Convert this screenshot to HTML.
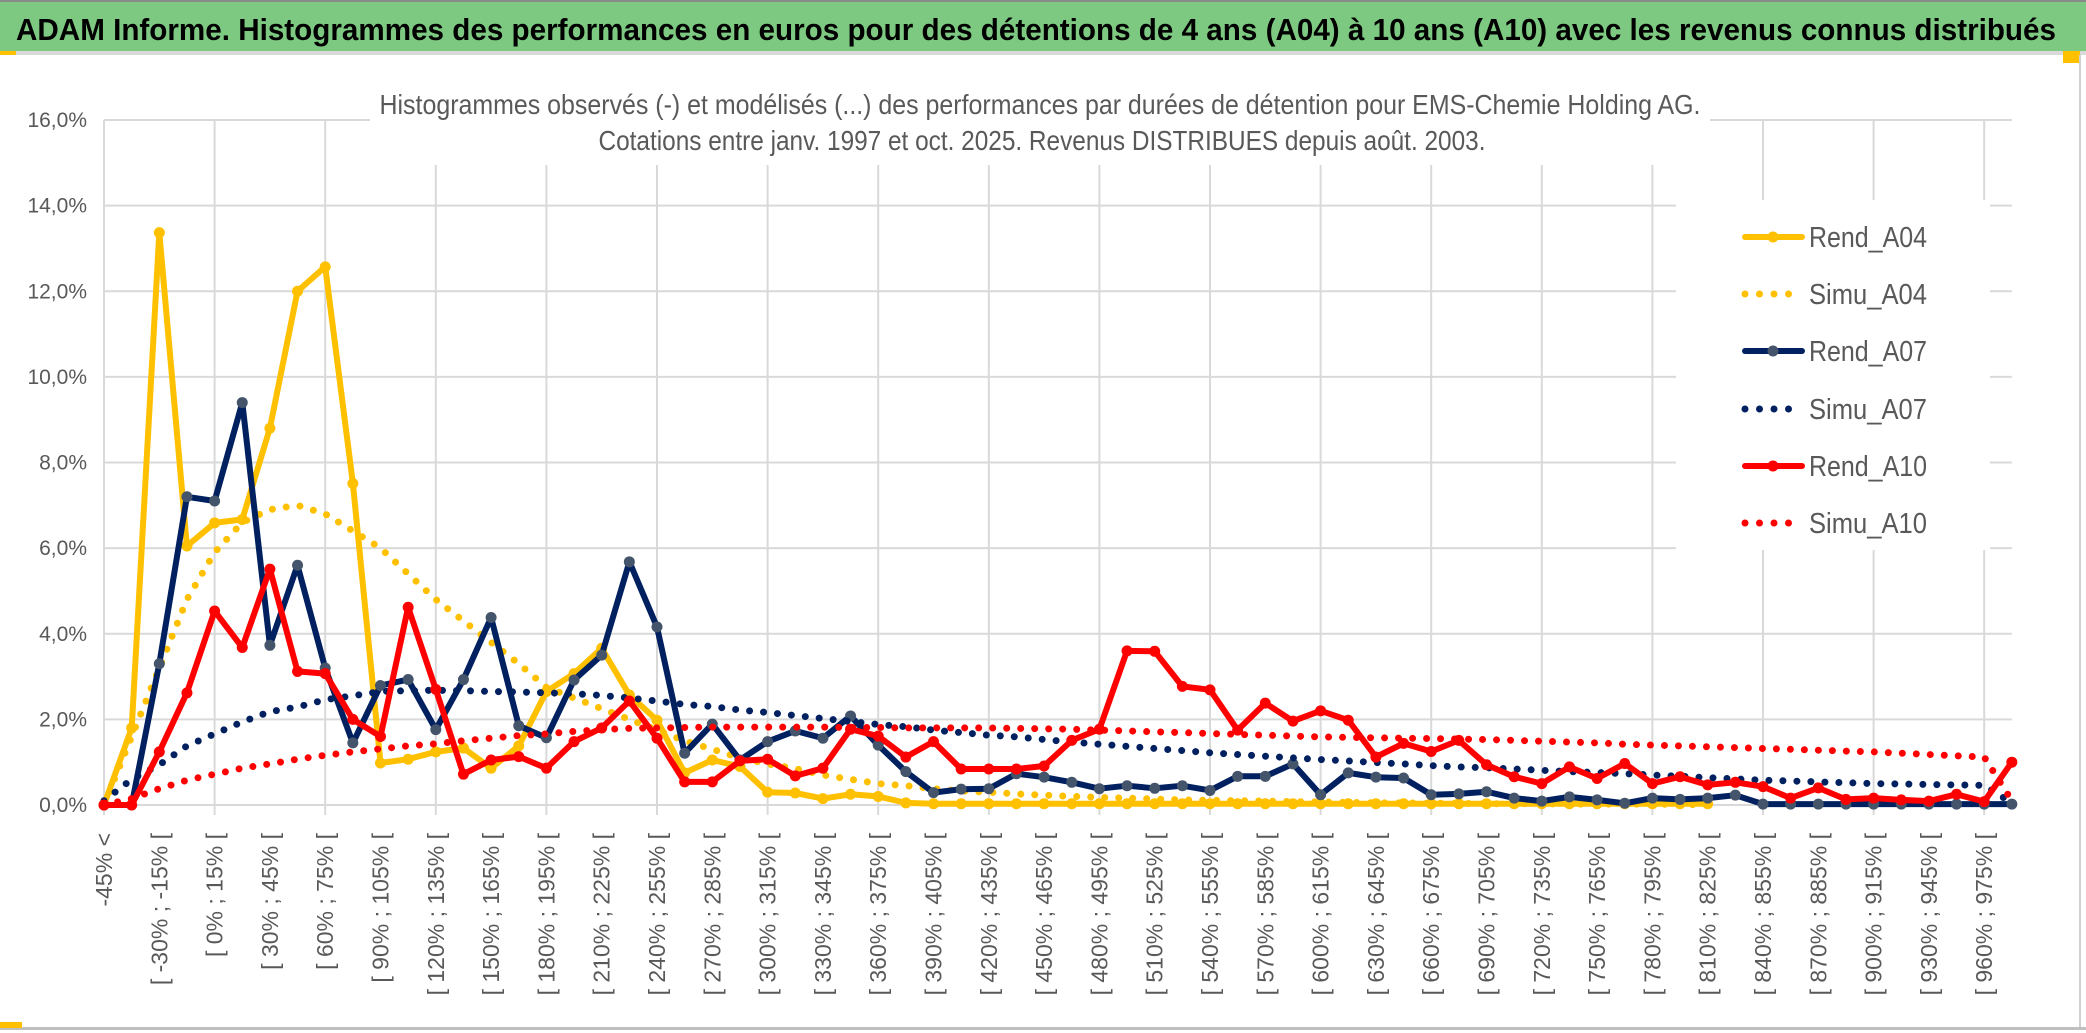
<!DOCTYPE html>
<html><head><meta charset="utf-8"><style>
html,body{margin:0;padding:0;background:#fff;}
svg{display:block;}
</style></head><body>
<svg id="chart" xmlns="http://www.w3.org/2000/svg" width="2086" height="1033" viewBox="0 0 2086 1033">
<rect x="0" y="0" width="2086" height="1033" fill="#fff"/>
<rect x="0" y="2" width="2086" height="49" fill="#7ec982"/>
<rect x="0" y="0" width="2086" height="2" fill="#8a8a8a"/>
<rect x="0" y="51" width="2086" height="4" fill="#d9d9d9"/>
<rect x="0" y="51" width="16" height="4" fill="#ffc000"/>
<rect x="2063" y="51" width="17" height="12" fill="#ffc000"/>
<text x="16" y="40" font-family="'Liberation Sans Narrow','Liberation Sans',sans-serif" font-weight="bold" font-size="31" fill="#000" textLength="2040" lengthAdjust="spacingAndGlyphs">ADAM Informe. Histogrammes des performances en euros pour des détentions de 4 ans (A04) à 10 ans (A10) avec les revenus connus distribués</text>
<rect x="2079" y="55" width="2" height="975" fill="#d0d0d0"/>
<rect x="0" y="1027" width="2086" height="3" fill="#bfbfbf"/>
<rect x="0" y="1022" width="22" height="6" fill="#ffc000"/>
<g id="grid"></g>
<rect x="370" y="60" width="1340" height="105" fill="#fff"/>
<text x="1040" y="114" text-anchor="middle" font-family="'Liberation Sans Narrow','Liberation Sans',sans-serif" font-size="28" fill="#595959" textLength="1321" lengthAdjust="spacingAndGlyphs">Histogrammes observés (-) et modélisés (...) des performances par durées de détention pour EMS-Chemie Holding AG.</text>
<text x="1042" y="150" text-anchor="middle" font-family="'Liberation Sans Narrow','Liberation Sans',sans-serif" font-size="28" fill="#595959" textLength="887" lengthAdjust="spacingAndGlyphs">Cotations entre janv. 1997 et oct. 2025. Revenus DISTRIBUES depuis août. 2003.</text>
<g id="ylabels"></g>
<g id="xlabels"></g>
<g id="series"></g>
<g id="legend"></g>
</svg>
<script>
const yTicks = [0, 2, 4, 6, 8, 10, 12, 14, 16];
const rendA04 = [0, 1.8, 13.37, 6.05, 6.59, 6.67, 8.8, 12.0, 12.57, 7.51,
 0.98, 1.07, 1.24, 1.33, 0.86, 1.38, 2.65, 3.07, 3.66, 2.57,
 1.98, 0.75, 1.05, 0.9, 0.3, 0.28, 0.15, 0.25, 0.2, 0.05,
 0.03, 0.03, 0.03, 0.03, 0.03, 0.03, 0.03, 0.03, 0.03, 0.03,
 0.03, 0.03, 0.03, 0.03, 0.03, 0.03, 0.03, 0.03, 0.03, 0.03,
 0.03, 0.03, 0.03, 0.03, 0.03, 0.03, 0.03, 0.03, 0.03,
 null, null, null, null, null, null, null, null, null, null, null];
const simuA04 = [0, 1.6, 3.2, 4.8, 5.9, 6.6, 6.9, 7.0, 6.8, 6.4,
 6.0, 5.4, 4.8, 4.3, 3.8, 3.3, 2.75, 2.5, 2.25, 2.0,
 1.75, 1.5, 1.3, 1.1, 0.96, 0.85, 0.7, 0.6, 0.5, 0.45,
 0.38, 0.33, 0.3, 0.26, 0.23, 0.2, 0.18, 0.16, 0.14, 0.12,
 0.11, 0.1, 0.09, 0.08, 0.07, 0.06, 0.05, 0.05, 0.04, 0.04,
 0.03, 0.03, 0.03, 0.02, 0.02, 0.02, 0.02, 0.01, 0.01,
 null, null, null, null, null, null, null, null, null, null, null];
const rendA07 = [0, 0, 3.3, 7.2, 7.1, 9.4, 3.73, 5.6, 3.2, 1.45,
 2.79, 2.93, 1.76, 2.93, 4.38, 1.85, 1.57, 2.92, 3.5, 5.68,
 4.16, 1.21, 1.89, 1.05, 1.48, 1.73, 1.56, 2.08, 1.40, 0.78,
 0.29, 0.37, 0.38, 0.73, 0.65, 0.53, 0.38, 0.45, 0.39, 0.45,
 0.34, 0.67, 0.67, 0.96, 0.24, 0.75, 0.65, 0.63, 0.24, 0.26,
 0.31, 0.16, 0.09, 0.19, 0.12, 0.04, 0.16, 0.13, 0.16, 0.23,
 0.02, 0.02, 0.02, 0.02, 0.02, 0.02, 0.02, 0.02, 0.02, 0.02];
const simuA07 = [0.1, 0.6, 0.94, 1.38, 1.66, 1.94, 2.18, 2.29, 2.46, 2.55,
 2.65, 2.67, 2.68, 2.67, 2.65, 2.64, 2.62, 2.6, 2.56, 2.5,
 2.43, 2.35, 2.3, 2.22, 2.16, 2.09, 2.02, 1.95, 1.88, 1.83,
 1.75, 1.69, 1.63, 1.59, 1.53, 1.47, 1.42, 1.37, 1.32, 1.27,
 1.22, 1.18, 1.14, 1.10, 1.06, 1.03, 0.99, 0.96, 0.92, 0.89,
 0.87, 0.84, 0.81, 0.78, 0.76, 0.73, 0.70, 0.67, 0.64, 0.61,
 0.58, 0.56, 0.54, 0.52, 0.50, 0.49, 0.48, 0.47, 0.46, 0.05];
const rendA10 = [0, 0, 1.24, 2.62, 4.53, 3.68, 5.51, 3.12, 3.07, 2.0,
 1.6, 4.62, 2.7, 0.72, 1.05, 1.13, 0.86, 1.48, 1.8, 2.43,
 1.56, 0.54, 0.54, 1.03, 1.07, 0.68, 0.86, 1.77, 1.61, 1.12,
 1.48, 0.84, 0.84, 0.84, 0.91, 1.51, 1.77, 3.6, 3.59, 2.77,
 2.69, 1.75, 2.38, 1.96, 2.2, 1.98, 1.12, 1.44, 1.25, 1.51,
 0.94, 0.66, 0.5, 0.89, 0.62, 0.97, 0.5, 0.66, 0.47, 0.53,
 0.43, 0.16, 0.4, 0.13, 0.16, 0.12, 0.09, 0.25, 0.08, 1.0];
const simuA10 = [0, 0.15, 0.38, 0.58, 0.72, 0.86, 0.96, 1.07, 1.16, 1.24,
 1.31, 1.38, 1.43, 1.5, 1.56, 1.62, 1.66, 1.72, 1.76, 1.79,
 1.8, 1.81, 1.82, 1.82, 1.82, 1.82, 1.82, 1.81, 1.81, 1.8,
 1.8, 1.8, 1.8, 1.79, 1.78, 1.77, 1.75, 1.73, 1.71, 1.69,
 1.67, 1.65, 1.63, 1.61, 1.59, 1.58, 1.57, 1.56, 1.55, 1.54,
 1.53, 1.51, 1.49, 1.47, 1.45, 1.42, 1.40, 1.38, 1.36, 1.34,
 1.32, 1.30, 1.28, 1.26, 1.24, 1.21, 1.18, 1.15, 1.12, 0.1];
const seriesNames = ["Rend_A04", "Simu_A04", "Rend_A07", "Simu_A07", "Rend_A10", "Simu_A10"];

const NS = "http://www.w3.org/2000/svg";
const X0 = 104, DX = 27.65, Y0 = 805, Y16 = 120;
const N = rendA04.length;
function xs(i){ return X0 + i * DX; }
function ys(v){ return Y0 - (v / 16) * (Y0 - Y16); }
function mk(tag, attrs, parent){ const e = document.createElementNS(NS, tag); for (const k in attrs) e.setAttribute(k, attrs[k]); parent.appendChild(e); return e; }
function catLabel(i){ if (i === 0) return "-45% <"; const a = -45 + 15 * (i - 1); return "[ " + a + "% ; " + (a + 15) + "% ["; }

const grid = document.getElementById("grid");
const xEnd = xs(N - 1);
yTicks.forEach(t => {
  const l = mk("line", {x1: X0, x2: xEnd, y1: ys(t), y2: ys(t), stroke: "#d9d9d9", "stroke-width": 2}, grid);
  
  
});
for (let i = 0; i < N; i += 4) {
  const l = mk("line", {x1: xs(i), x2: xs(i), y1: Y16, y2: Y0 + 10, stroke: "#d9d9d9", "stroke-width": 2}, grid);
  
  
}

const yl = document.getElementById("ylabels");
yTicks.forEach(t => {
  const e = mk("text", {x: 87, y: ys(t) + 7, "text-anchor": "end", "font-family": "'Liberation Sans Narrow','Liberation Sans',sans-serif", "font-size": 21, fill: "#595959"}, yl);
  e.textContent = t.toFixed(1).replace(".", ",") + "%";
  
  
});

const xl = document.getElementById("xlabels");
for (let i = 0; i < N; i += 2) {
  const x = xs(i) + 8, y = 833;
  const e = mk("text", {x: x, y: y, "text-anchor": "end", transform: "rotate(-90 " + x + " " + y + ")", "font-family": "'Liberation Sans Narrow','Liberation Sans',sans-serif", "font-size": 23, fill: "#595959"}, xl);
  e.textContent = catLabel(i);
  
  
}

const sg = document.getElementById("series");
function drawRend(data, color, mcolor, name){
  const g = mk("g", {}, sg);
  
  
  let pts = [];
  data.forEach((v, i) => { if (v !== null) pts.push(xs(i).toFixed(1) + "," + ys(v).toFixed(1)); });
  const p = mk("polyline", {points: pts.join(" "), fill: "none", stroke: color, "stroke-width": 6, "stroke-linejoin": "round", "stroke-linecap": "round"}, g);
  
  
  data.forEach((v, i) => {
    if (v === null) return;
    const c = mk("circle", {cx: xs(i), cy: ys(v), r: 5.5, fill: mcolor}, g);
    
    
  });
}
function drawSimu(data, color, name){
  const g = mk("g", {}, sg);
  
  
  let pts = [];
  data.forEach((v, i) => { if (v !== null) pts.push(xs(i).toFixed(1) + "," + ys(v).toFixed(1)); });
  const p = mk("polyline", {points: pts.join(" "), fill: "none", stroke: color, "stroke-width": 7, "stroke-dasharray": "0 14", "stroke-linecap": "round", "stroke-linejoin": "round"}, g);
  
  
}
drawRend(rendA04, "#ffc000", "#ffc000", "rend-a04");
drawSimu(simuA04, "#ffc000", "simu-a04");
drawRend(rendA07, "#002060", "#44546a", "rend-a07");
drawSimu(simuA07, "#002060", "simu-a07");
drawRend(rendA10, "#ff0000", "#ff0000", "rend-a10");
drawSimu(simuA10, "#ff0000", "simu-a10");

const lg = document.getElementById("legend");
const box = mk("rect", {x: 1676, y: 200, width: 314, height: 350, fill: "#fff"}, lg);


const legY = [237, 294, 351, 409, 466, 523];
const legColor = ["#ffc000", "#ffc000", "#002060", "#002060", "#ff0000", "#ff0000"];
const legMarker = ["#ffc000", null, "#44546a", null, "#ff0000", null];
seriesNames.forEach((nm, k) => {
  const g = mk("g", {}, lg);
  
  
  const y = legY[k];
  if (legMarker[k]) {
    mk("line", {x1: 1745, x2: 1802, y1: y, y2: y, stroke: legColor[k], "stroke-width": 6, "stroke-linecap": "round"}, g);
    mk("circle", {cx: 1773, cy: y, r: 5.5, fill: legMarker[k]}, g);
  } else {
    mk("line", {x1: 1745, x2: k === 5 ? 1803 : 1791, y1: y, y2: y, stroke: legColor[k], "stroke-width": 7, "stroke-dasharray": "0 14.5", "stroke-linecap": "round"}, g);
  }
  const t = mk("text", {x: 1809, y: y + 10, "font-family": "'Liberation Sans Narrow','Liberation Sans',sans-serif", "font-size": 29, fill: "#595959", textLength: 118, lengthAdjust: "spacingAndGlyphs"}, g);
  t.textContent = nm;
});
</script>
</body></html>
